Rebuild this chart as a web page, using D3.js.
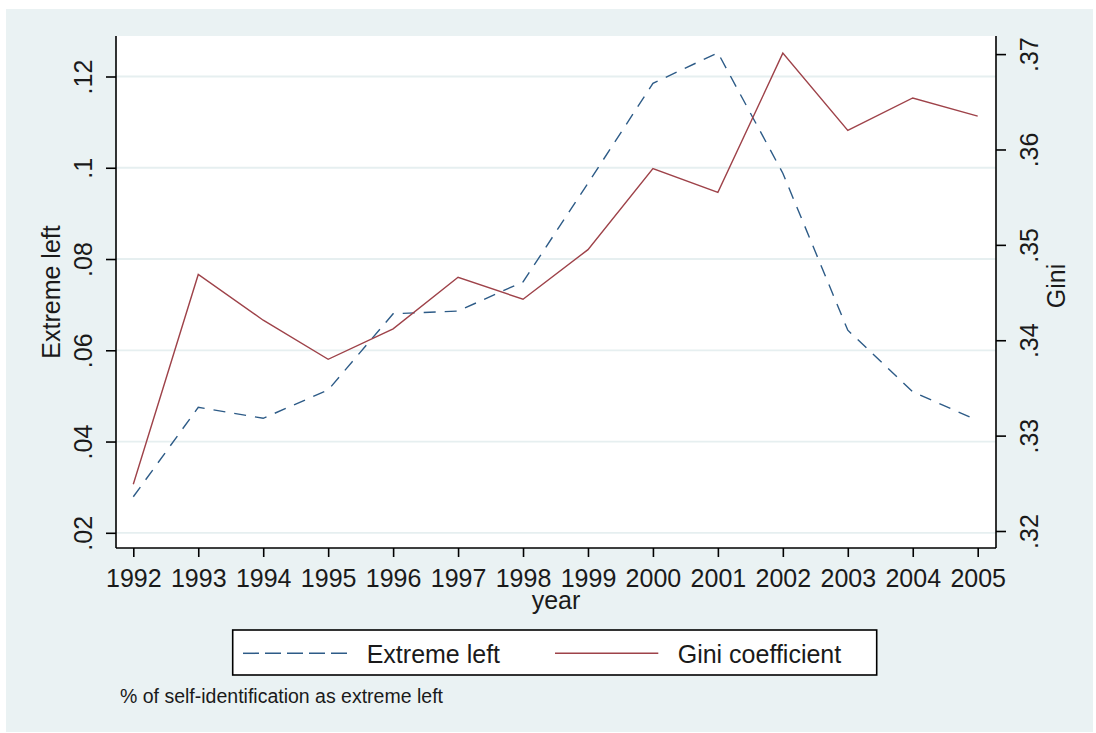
<!DOCTYPE html>
<html><head><meta charset="utf-8">
<script src="https://cdn.jsdelivr.net/npm/d3@7"></script>
<style>
body{margin:0;background:#fff}
svg{display:block}
text{font-family:"Liberation Sans",Arial,sans-serif;fill:#1a1a1a}
</style>
</head><body>
<svg id="c" width="1096" height="733"></svg>
<script>
const years = [1992,1993,1994,1995,1996,1997,1998,1999,2000,2001,2002,2003,2004,2005];
const extremeLeft = [0.0279,0.0475,0.0451,0.0513,0.0680,0.0686,0.0750,0.0966,0.1185,0.1252,0.0988,0.0644,0.0509,0.0446];
const gini = [0.3249,0.3469,0.3421,0.3380,0.3412,0.3466,0.3443,0.3495,0.3580,0.3555,0.3701,0.3620,0.3654,0.3635];
const leftTicks = [0.02,0.04,0.06,0.08,0.1,0.12];
const leftTickLabels = [".02",".04",".06",".08",".1",".12"];
const rightTicks = [0.32,0.33,0.34,0.35,0.36,0.37];
const rightTickLabels = [".32",".33",".34",".35",".36",".37"];
const seriesNames = ["Extreme left","Gini coefficient"];
const xTitle = "year", yLeftTitle = "Extreme left", yRightTitle = "Gini";
const note = "% of self-identification as extreme left";

const svg = d3.select("#c");
const bg = "#eaf2f3", blue = "#2d5b87", red = "#9e4249";
const P = {l:116, r:996, t:36, b:548};
const FONT = '"Liberation Sans",Arial,sans-serif';

svg.append("rect").attr("x",6).attr("y",9).attr("width",1087).attr("height",723).attr("fill",bg);
svg.append("rect").attr("x",P.l).attr("y",P.t).attr("width",P.r-P.l).attr("height",P.b-P.t).attr("fill","#fff");

const x = d3.scaleLinear().domain([1992,2005]).range([133.3,977.7]);
const yL = d3.scaleLinear().domain([0.02,0.12]).range([532.8,76.5]);
const yR = d3.scaleLinear().domain([0.32,0.37]).range([531,54.1]);

// gridlines
svg.append("g").selectAll("line").data(leftTicks).join("line")
  .attr("x1",P.l).attr("x2",P.r).attr("y1",d=>yL(d)).attr("y2",d=>yL(d))
  .attr("stroke","#e6eff0").attr("stroke-width",1.8);

// lines
const data = years.map((yr,i)=>({yr, el:extremeLeft[i], g:gini[i]}));
svg.append("path").datum(data)
  .attr("d",d3.line().x(d=>x(d.yr)).y(d=>yL(d.el)))
  .attr("fill","none").attr("stroke",blue).attr("stroke-width",1.4).attr("stroke-dasharray","12,9");
svg.append("path").datum(data)
  .attr("d",d3.line().x(d=>x(d.yr)).y(d=>yR(d.g)))
  .attr("fill","none").attr("stroke",red).attr("stroke-width",1.4);

const fs = 25;
function styleText(sel){ sel.style("font-size",fs+"px").style("font-family",FONT).attr("fill","#1a1a1a"); }
// left axis
const gL = svg.append("g").attr("transform",`translate(${P.l},0)`)
  .call(d3.axisLeft(yL).tickValues(leftTicks).tickSize(10).tickFormat((d,i)=>leftTickLabels[i]));
gL.select(".domain").attr("d",`M0,${P.t}V${P.b}`).attr("stroke","#000").attr("stroke-width",1.6);
gL.selectAll(".tick line").attr("stroke","#000").attr("stroke-width",1.6);
gL.selectAll(".tick text").attr("transform","rotate(-90)").attr("x",0).attr("y",-24).attr("dy",0)
  .attr("text-anchor","middle").call(styleText);

// right axis
const gR = svg.append("g").attr("transform",`translate(${P.r},0)`)
  .call(d3.axisRight(yR).tickValues(rightTicks).tickSize(10).tickFormat((d,i)=>rightTickLabels[i]));
gR.select(".domain").attr("d",`M0,${P.t}V${P.b}`).attr("stroke","#000").attr("stroke-width",1.6);
gR.selectAll(".tick line").attr("stroke","#000").attr("stroke-width",1.6);
gR.selectAll(".tick text").attr("transform","rotate(-90)").attr("x",0).attr("y",41.5).attr("dy",0)
  .attr("text-anchor","middle").call(styleText);

// bottom axis
const gB = svg.append("g").attr("transform",`translate(0,${P.b})`)
  .call(d3.axisBottom(x).tickValues(years).tickSize(9).tickFormat(d3.format("d")));
gB.select(".domain").attr("d",`M${P.l},0H${P.r}`).attr("stroke","#000").attr("stroke-width",1.6);
gB.selectAll(".tick line").attr("stroke","#000").attr("stroke-width",1.6);
gB.selectAll(".tick text").attr("y",38.7).attr("dy",0).call(styleText);

// titles
svg.append("text").attr("x",(P.l+P.r)/2).attr("y",609).attr("text-anchor","middle").style("font-size",fs+"px").text(xTitle);
svg.append("text").attr("transform",`translate(60,${(P.t+P.b)/2}) rotate(-90)`).attr("text-anchor","middle").style("font-size",fs+"px").text(yLeftTitle);
svg.append("text").attr("transform",`translate(1065,${(P.t+P.b)/2 - 6}) rotate(-90)`).attr("text-anchor","middle").style("font-size",fs+"px").text(yRightTitle);

// legend
svg.append("rect").attr("x",232.7).attr("y",630).attr("width",644).attr("height",45)
  .attr("fill","#fff").attr("stroke","#000").attr("stroke-width",1.6);
svg.append("line").attr("x1",243).attr("x2",349).attr("y1",653.3).attr("y2",653.3)
  .attr("stroke",blue).attr("stroke-width",1.5).attr("stroke-dasharray","16,6");
svg.append("text").attr("x",366.7).attr("y",662.7).style("font-size",fs+"px").text(seriesNames[0]);
svg.append("line").attr("x1",555).attr("x2",658.3).attr("y1",653.3).attr("y2",653.3)
  .attr("stroke",red).attr("stroke-width",1.5);
svg.append("text").attr("x",677.7).attr("y",662.7).style("font-size",fs+"px").text(seriesNames[1]);

// note
svg.append("text").attr("x",120).attr("y",703.3).style("font-size","19.5px").text(note);
</script>
</body></html>
